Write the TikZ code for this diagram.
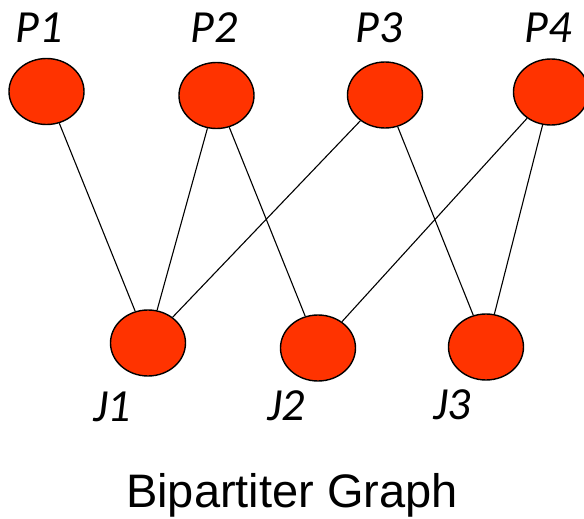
\documentclass[tikz,border=0pt]{standalone}
\usepackage{fontspec}
\setmainfont{Liberation Sans}
\newfontfamily\lblfont{Carlito}
\usetikzlibrary{shapes.geometric}
\definecolor{nodered}{HTML}{FF3300}
\begin{document}
\begin{tikzpicture}[x=1pt,y=-1pt,
  vert/.style={ellipse,draw=black,line width=1.4pt,fill=nodered,minimum width=75pt,minimum height=66pt,inner sep=0pt},
  lbl/.style={font=\lblfont\itshape\fontsize{46}{46}\selectfont,anchor=base,inner sep=0pt},
  edge/.style={draw=black,line width=1.1pt}]
\useasboundingbox (0,0) rectangle (584,519);
\node[vert] (P1) at (46.5,91.5) {};
\node[vert] (P2) at (216.5,95.5) {};
\node[vert] (P3) at (385,95) {};
\node[vert] (P4) at (551,92) {};
\node[vert] (J1) at (148,343) {};
\node[vert] (J2) at (318,348) {};
\node[vert] (J3) at (486,347) {};
\node[lbl] (lP1) at (39,43) {P1};
\node[lbl] (lP2) at (214,43) {P2};
\node[lbl] (lP3) at (379,43) {P3};
\node[lbl] (lP4) at (548,43) {P4};
\node[lbl] (lJ1) at (112,421) {J1};
\node[lbl] (lJ2) at (286,420) {J2};
\node[lbl] (lJ3) at (452,419) {J3};
\node[font=\fontsize{47}{47}\selectfont,anchor=base,inner sep=0pt] (title) at (292,507) {Bipartiter Graph};
\draw[edge] (P1) -- (J1);
\draw[edge] (P2) -- (J1);
\draw[edge] (P3) -- (J1);
\draw[edge] (P2) -- (J2);
\draw[edge] (P4) -- (J2);
\draw[edge] (P3) -- (J3);
\draw[edge] (P4) -- (J3);
\end{tikzpicture}
\end{document}
